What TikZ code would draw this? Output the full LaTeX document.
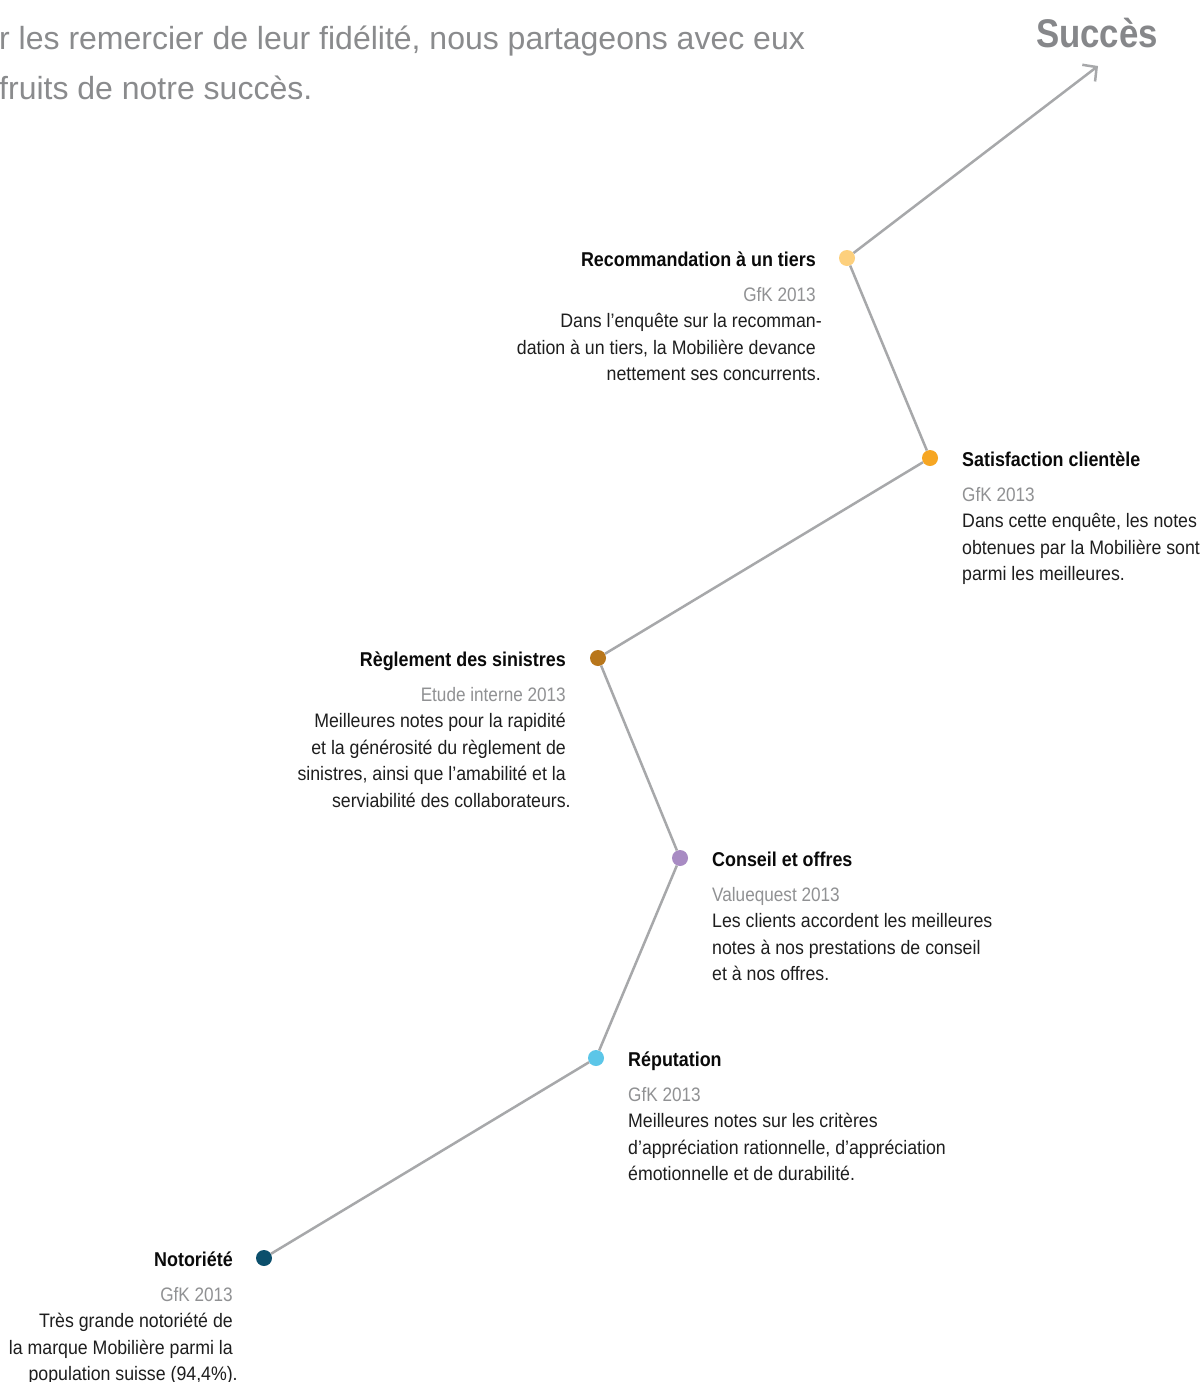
\documentclass[tikz,border=0pt]{standalone}
\usepackage{fontspec}
\setmainfont{Liberation Sans}
\newfontfamily\bodyfont[FakeStretch=0.91]{Liberation Sans}
\newfontfamily\srcfont[FakeStretch=0.88]{Liberation Sans}
\newfontfamily\titlefont[FakeStretch=0.895]{Liberation Sans}
\newfontfamily\bigfont[FakeStretch=0.87]{Liberation Sans}
\usetikzlibrary{arrows.meta}
\definecolor{linegrey}{HTML}{A7A8AA}
\definecolor{srcgrey}{HTML}{909193}
\definecolor{topgrey}{HTML}{8A8B8D}
\definecolor{bigrey}{HTML}{86878A}
\definecolor{titleblack}{HTML}{0A0A0A}
\definecolor{bodyblack}{HTML}{1E1E1E}
\definecolor{cA}{HTML}{FDD07D}
\definecolor{cB}{HTML}{F6A623}
\definecolor{cC}{HTML}{B8761B}
\definecolor{cD}{HTML}{A88BC3}
\definecolor{cE}{HTML}{5CC6E8}
\definecolor{cF}{HTML}{0B4F6C}
\tikzset{
  milestone/.style={circle, fill=#1, minimum size=16pt, inner sep=0pt},
  ttl/.style={inner sep=0pt, font=\titlefont\bfseries\fontsize{20}{20}\selectfont, text=titleblack},
  src/.style={inner sep=0pt, font=\srcfont\fontsize{19.5}{19.5}\selectfont, text=srcgrey},
  txt/.style={inner sep=0pt, font=\bodyfont\fontsize{19.5}{19.5}\selectfont, text=bodyblack},
  intro/.style={inner sep=0pt, anchor=base west, font=\fontsize{32}{32}\selectfont, text=topgrey},
  conn/.style={draw=linegrey, line width=2.5pt},
}
\newcommand\infoblock[7]{%
  \node[ttl, anchor=base #2] (#1-t) at ({#3},{#4+8}) {#5};
  \node[src, anchor=base #2] (#1-s) at ({#3},{#4+43}) {#6};
  \foreach \ln [count=\i] in {#7}
    \node[txt, anchor=base #2] (#1-\i) at ({#3},{#4+43+26.5*\i}) {\ln};
}
\begin{document}
\begin{tikzpicture}[x=1pt,y=-1pt]
\useasboundingbox[fill=white] (0,0) rectangle (1203,1382);
% intro text
\node[intro] (intro1) at (-1,49) {r les remercier de leur fidélité, nous partageons avec eux};
\node[intro] (intro2) at (-1,99) {fruits de notre succès.};
% title
\node[inner sep=0pt, anchor=base, font=\bigfont\bfseries\fontsize{40}{40}\selectfont, text=bigrey] (succes) at (1097,47) {Succès};
% dots
\node[milestone=cA] (d1) at (847,258) {};
\node[milestone=cB] (d2) at (930,458) {};
\node[milestone=cC] (d3) at (598,658) {};
\node[milestone=cD] (d4) at (680,858) {};
\node[milestone=cE] (d5) at (596,1058) {};
\node[milestone=cF] (d6) at (264,1258) {};
\coordinate (tip) at (1098,66);
% connectors
\draw[conn] (d6) -- (d5);
\draw[conn] (d5) -- (d4);
\draw[conn] (d4) -- (d3);
\draw[conn] (d3) -- (d2);
\draw[conn] (d2) -- (d1);
\draw[conn, -{Straight Barb[length=10pt,width=21pt]}] (d1) -- (tip);
% blocks
\infoblock{rec}{east}{816}{258}{Recommandation à un tiers}{GfK 2013}%
  {{Dans l’enquête sur la recomman\rlap{-}},{dation à un tiers, la Mobilière devance},{nettement ses concurrents\rlap{.}}}
\infoblock{sat}{west}{962}{458}{Satisfaction clientèle}{GfK 2013}%
  {{Dans cette enquête, les notes},{obtenues par la Mobilière sont},{parmi les meilleures.}}
\infoblock{reg}{east}{566}{658}{Règlement des sinistres}{Etude interne 2013}%
  {{Meilleures notes pour la rapidité},{et la générosité du règlement de},{sinistres, ainsi que l’amabilité et la},{serviabilité des collaborateurs\rlap{.}}}
\infoblock{con}{west}{712}{858}{Conseil et offres}{Valuequest 2013}%
  {{Les clients accordent les meilleures},{notes à nos prestations de conseil},{et à nos offres.}}
\infoblock{rep}{west}{628}{1058}{Réputation}{GfK 2013}%
  {{Meilleures notes sur les critères},{d’appréciation rationnelle, d’appréciation},{émotionnelle et de durabilité.}}
\infoblock{not}{east}{233}{1258}{Notoriété}{GfK 2013}%
  {{Très grande notoriété de},{la marque Mobilière parmi la},{population suisse (94,4\%)\rlap{.}}}
\end{tikzpicture}
\end{document}
